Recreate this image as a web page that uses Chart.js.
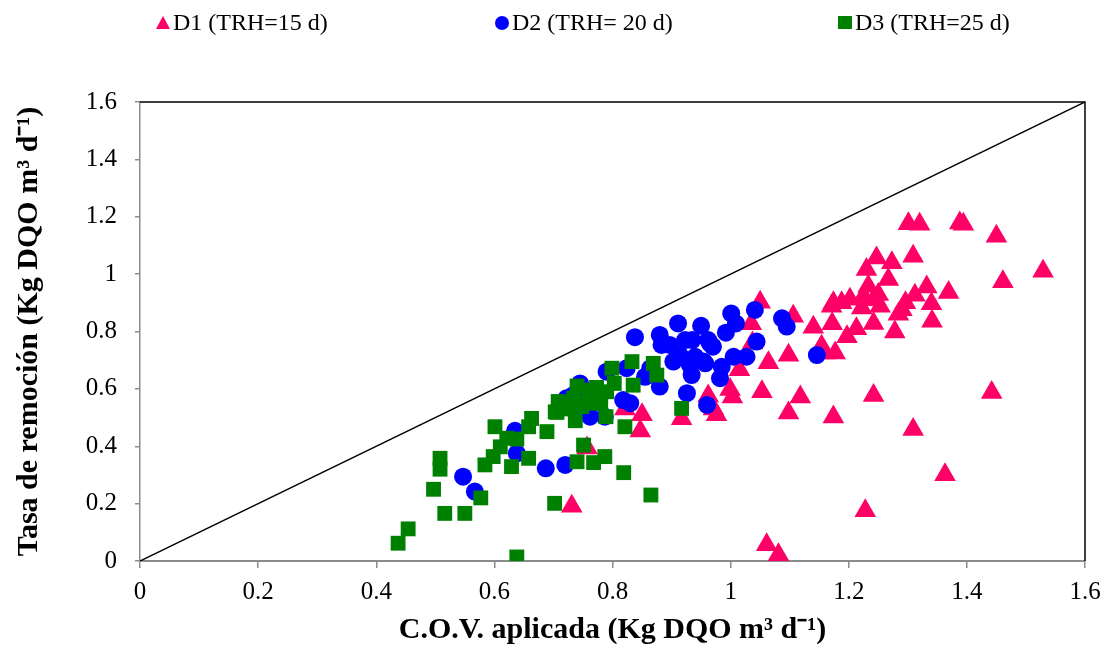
<!DOCTYPE html>
<html>
<head>
<meta charset="utf-8">
<title>Tasa de remoción vs C.O.V. aplicada</title>
<script src="https://cdn.jsdelivr.net/npm/chart.js@4.4.0/dist/chart.umd.min.js"></script>
<style>
  html, body { margin: 0; padding: 0; background: #ffffff; }
</style>
</head>
<body>
<canvas id="remocionChart" width="1105" height="648"></canvas>
<script>
// D1 (TRH = 15 d)
const d1X = [1.301, 1.320, 1.388, 1.394, 1.450, 1.529, 1.461, 1.309, 1.247, 1.273, 1.230, 1.267, 1.233, 1.369,
             1.332, 1.312, 1.296, 1.284, 1.250, 1.242, 1.253, 1.225, 1.202, 1.174, 1.188, 1.222, 1.340, 1.341,
             1.242, 1.213, 1.197, 1.278, 1.177, 1.160, 1.242, 1.442, 1.174, 1.309, 1.363, 1.228, 1.061, 1.081,
             1.050, 1.106, 1.035, 1.140, 1.171, 1.172, 1.154, 1.098, 1.064, 1.037, 1.015, 0.999, 1.053, 1.118,
             1.098, 0.971, 0.962, 0.850, 0.847, 0.917, 0.976, 1.003, 0.731, 0.757, 0.821, 1.290];
const d1Y = [1.176, 1.174, 1.178, 1.174, 1.132, 1.010, 0.973, 1.062, 1.056, 1.040, 1.016, 0.981, 0.958, 0.936,
             0.955, 0.926, 0.900, 0.860, 0.929, 0.911, 0.888, 0.923, 0.912, 0.900, 0.900, 0.882, 0.897, 0.836,
             0.828, 0.810, 0.782, 0.798, 0.725, 0.725, 0.577, 0.587, 0.502, 0.458, 0.301, 0.175, 0.057, 0.022,
             0.902, 0.853, 0.827, 0.815, 0.888, 0.827, 0.749, 0.717, 0.691, 0.760, 0.667, 0.598, 0.590, 0.572,
             0.516, 0.530, 0.575, 0.510, 0.453, 0.496, 0.510, 0.572, 0.191, 0.394, 0.530, 0.876];

// D2 (TRH = 20 d)
const d2X = [0.838, 0.880, 0.883, 0.897, 0.911, 0.923, 0.935, 0.950, 0.962, 0.970, 0.992, 1.001, 1.009, 1.041,
             1.087, 1.095, 1.044, 1.027, 1.005, 0.985, 0.982, 0.957, 0.934, 0.931, 0.903, 0.880, 0.926, 0.960,
             1.146, 0.830, 0.818, 0.855, 0.864, 0.824, 0.940, 0.965, 0.790, 0.745, 0.734, 0.762, 0.787, 0.635,
             0.638, 0.687, 0.720, 0.547, 0.567, 0.914, 0.954, 0.775, 0.722];
const d2Y = [0.780, 0.788, 0.753, 0.753, 0.828, 0.770, 0.770, 0.820, 0.770, 0.747, 0.796, 0.863, 0.828, 0.875,
             0.846, 0.817, 0.765, 0.712, 0.712, 0.677, 0.637, 0.689, 0.648, 0.683, 0.695, 0.608, 0.585, 0.544,
             0.718, 0.550, 0.561, 0.642, 0.672, 0.672, 0.712, 0.759, 0.660, 0.619, 0.579, 0.503, 0.503, 0.454,
             0.375, 0.323, 0.335, 0.294, 0.242, 0.718, 0.695, 0.555, 0.567];

// D3 (TRH = 25 d)
const d3X = [0.799, 0.833, 0.869, 0.875, 0.835, 0.803, 0.773, 0.762, 0.740, 0.708, 0.706, 0.722, 0.748, 0.759,
             0.734, 0.789, 0.737, 0.821, 0.751, 0.740, 0.768, 0.787, 0.819, 0.917, 0.865, 0.601, 0.663, 0.658,
             0.689, 0.638, 0.621, 0.610, 0.598, 0.584, 0.629, 0.658, 0.508, 0.508, 0.497, 0.516, 0.550, 0.577,
             0.702, 0.454, 0.437, 0.638, 0.703, 0.780, 0.790, 0.760, 0.780, 0.730];
const d3Y = [0.672, 0.695, 0.689, 0.648, 0.613, 0.619, 0.605, 0.596, 0.610, 0.556, 0.518, 0.550, 0.538, 0.550,
             0.567, 0.503, 0.489, 0.468, 0.404, 0.346, 0.343, 0.364, 0.308, 0.532, 0.230, 0.468, 0.497, 0.468,
             0.451, 0.425, 0.428, 0.398, 0.364, 0.335, 0.329, 0.358, 0.358, 0.320, 0.250, 0.166, 0.166, 0.220,
             0.201, 0.112, 0.062, 0.014, 0.520, 0.580, 0.590, 0.575, 0.550, 0.530];

// 1:1 reference line (removal = load)
const lineX = [0, 1.6];
const lineY = [0, 1.6];

const tickValues = [0, 0.2, 0.4, 0.6, 0.8, 1, 1.2, 1.4, 1.6];
const seriesNames = ['D1 (TRH=15 d)', 'D2 (TRH= 20 d)', 'D3 (TRH=25 d)'];

const PINK = '#ff0066';
const BLUE = '#0000ff';
const GREEN = '#008000';
const SERIF = "'Liberation Serif', 'Times New Roman', serif";

const toPoints = (xs, ys) => xs.map((x, i) => ({ x: x, y: ys[i] }));

// box on top/right plus a hand drawn legend row above the plot
const frameAndLegend = {
    id: 'frameAndLegend',
    afterDraw(chart) {
        const ctx = chart.ctx;
        const a = chart.chartArea;
        ctx.save();
        ctx.strokeStyle = '#000000';
        ctx.lineWidth = 1.5;
        ctx.beginPath();
        ctx.moveTo(a.left, a.top);
        ctx.lineTo(a.right, a.top);
        ctx.lineTo(a.right, a.bottom);
        ctx.stroke();

        const markers = ['triangle', 'circle', 'rect'];
        const colors = [PINK, BLUE, GREEN];
        const xs = [163, 502, 845];
        const y = 23;
        ctx.font = '24px ' + SERIF;
        ctx.textBaseline = 'middle';
        ctx.textAlign = 'left';
        for (let i = 0; i < 3; i++) {
            const cx = xs[i];
            ctx.fillStyle = colors[i];
            ctx.beginPath();
            if (markers[i] === 'triangle') {
                ctx.moveTo(cx, y - 7);
                ctx.lineTo(cx + 7, y + 6);
                ctx.lineTo(cx - 7, y + 6);
                ctx.closePath();
            } else if (markers[i] === 'circle') {
                ctx.ellipse(cx, y, 7, 7, 0, 0, Math.PI * 2);
            } else {
                ctx.rect(cx - 7, y - 7, 14, 13);
            }
            ctx.fill();
            ctx.fillStyle = '#000000';
            ctx.fillText(seriesNames[i], cx + 10, y + 1);
        }
        ctx.restore();
    }
};

const ctx = document.getElementById('remocionChart').getContext('2d');
const remocionChart = new Chart(ctx, {
    type: 'scatter',
    data: {
        datasets: [
            {
                label: seriesNames[2],
                data: toPoints(d3X, d3Y),
                pointStyle: 'rect',
                pointRadius: 10.5,
                pointHoverRadius: 10.5,
                backgroundColor: GREEN,
                borderColor: GREEN,
                borderWidth: 0,
                order: 0
            },
            {
                label: seriesNames[1],
                data: toPoints(d2X, d2Y),
                pointStyle: 'circle',
                pointRadius: 9,
                pointHoverRadius: 9,
                backgroundColor: BLUE,
                borderColor: BLUE,
                borderWidth: 0,
                order: 1
            },
            {
                label: seriesNames[0],
                data: toPoints(d1X, d1Y),
                pointStyle: 'triangle',
                pointRadius: 12.5,
                pointHoverRadius: 12.5,
                backgroundColor: PINK,
                borderColor: PINK,
                borderWidth: 0,
                order: 2
            },
            {
                type: 'line',
                label: '1:1',
                data: toPoints(lineX, lineY),
                borderColor: '#000000',
                borderWidth: 1.5,
                pointRadius: 0,
                fill: false,
                order: 3
            }
        ]
    },
    options: {
        responsive: false,
        animation: false,
        devicePixelRatio: 1,
        layout: {
            padding: { top: 102, right: 20, bottom: 0, left: 0 }
        },
        scales: {
            x: {
                type: 'linear',
                min: 0,
                max: 1.6,
                afterBuildTicks: (scale) => { scale.ticks = tickValues.map(v => ({ value: v })); },
                afterFit: (scale) => {
                    scale.height = 87;
                    scale.paddingLeft = 0;
                    scale.paddingRight = 0;
                },
                grid: {
                    drawOnChartArea: false,
                    drawTicks: true,
                    tickLength: 7,
                    color: '#8c8c8c',
                    lineWidth: 1.5
                },
                border: { display: true, color: '#8c8c8c', width: 2 },
                ticks: {
                    padding: 9,
                    color: '#000000',
                    font: { family: SERIF, size: 25 },
                    callback: (v) => String(+v.toFixed(1))
                },
                title: {
                    display: true,
                    text: 'C.O.V. aplicada (Kg DQO m³ d⁻¹)',
                    color: '#000000',
                    font: { family: SERIF, size: 30, weight: 'bold' },
                    padding: { top: 0, bottom: 0 }
                }
            },
            y: {
                type: 'linear',
                min: 0,
                max: 1.6,
                afterBuildTicks: (scale) => { scale.ticks = tickValues.map(v => ({ value: v })); },
                afterFit: (scale) => {
                    scale.width = 140;
                    scale.paddingTop = 0;
                    scale.paddingBottom = 0;
                },
                grid: {
                    drawOnChartArea: false,
                    drawTicks: true,
                    tickLength: 5,
                    color: '#8c8c8c',
                    lineWidth: 1.5
                },
                border: { display: true, color: '#8c8c8c', width: 1.5 },
                ticks: {
                    padding: 18,
                    color: '#000000',
                    font: { family: SERIF, size: 25 },
                    callback: (v) => String(+v.toFixed(1))
                },
                title: {
                    display: true,
                    text: 'Tasa de remoción (Kg DQO m³ d⁻¹)',
                    color: '#000000',
                    font: { family: SERIF, size: 30, weight: 'bold' },
                    padding: { top: 11, bottom: 0 }
                }
            }
        },
        plugins: {
            legend: { display: false },
            tooltip: { enabled: false }
        }
    },
    plugins: [frameAndLegend]
});
</script>
</body>
</html>
